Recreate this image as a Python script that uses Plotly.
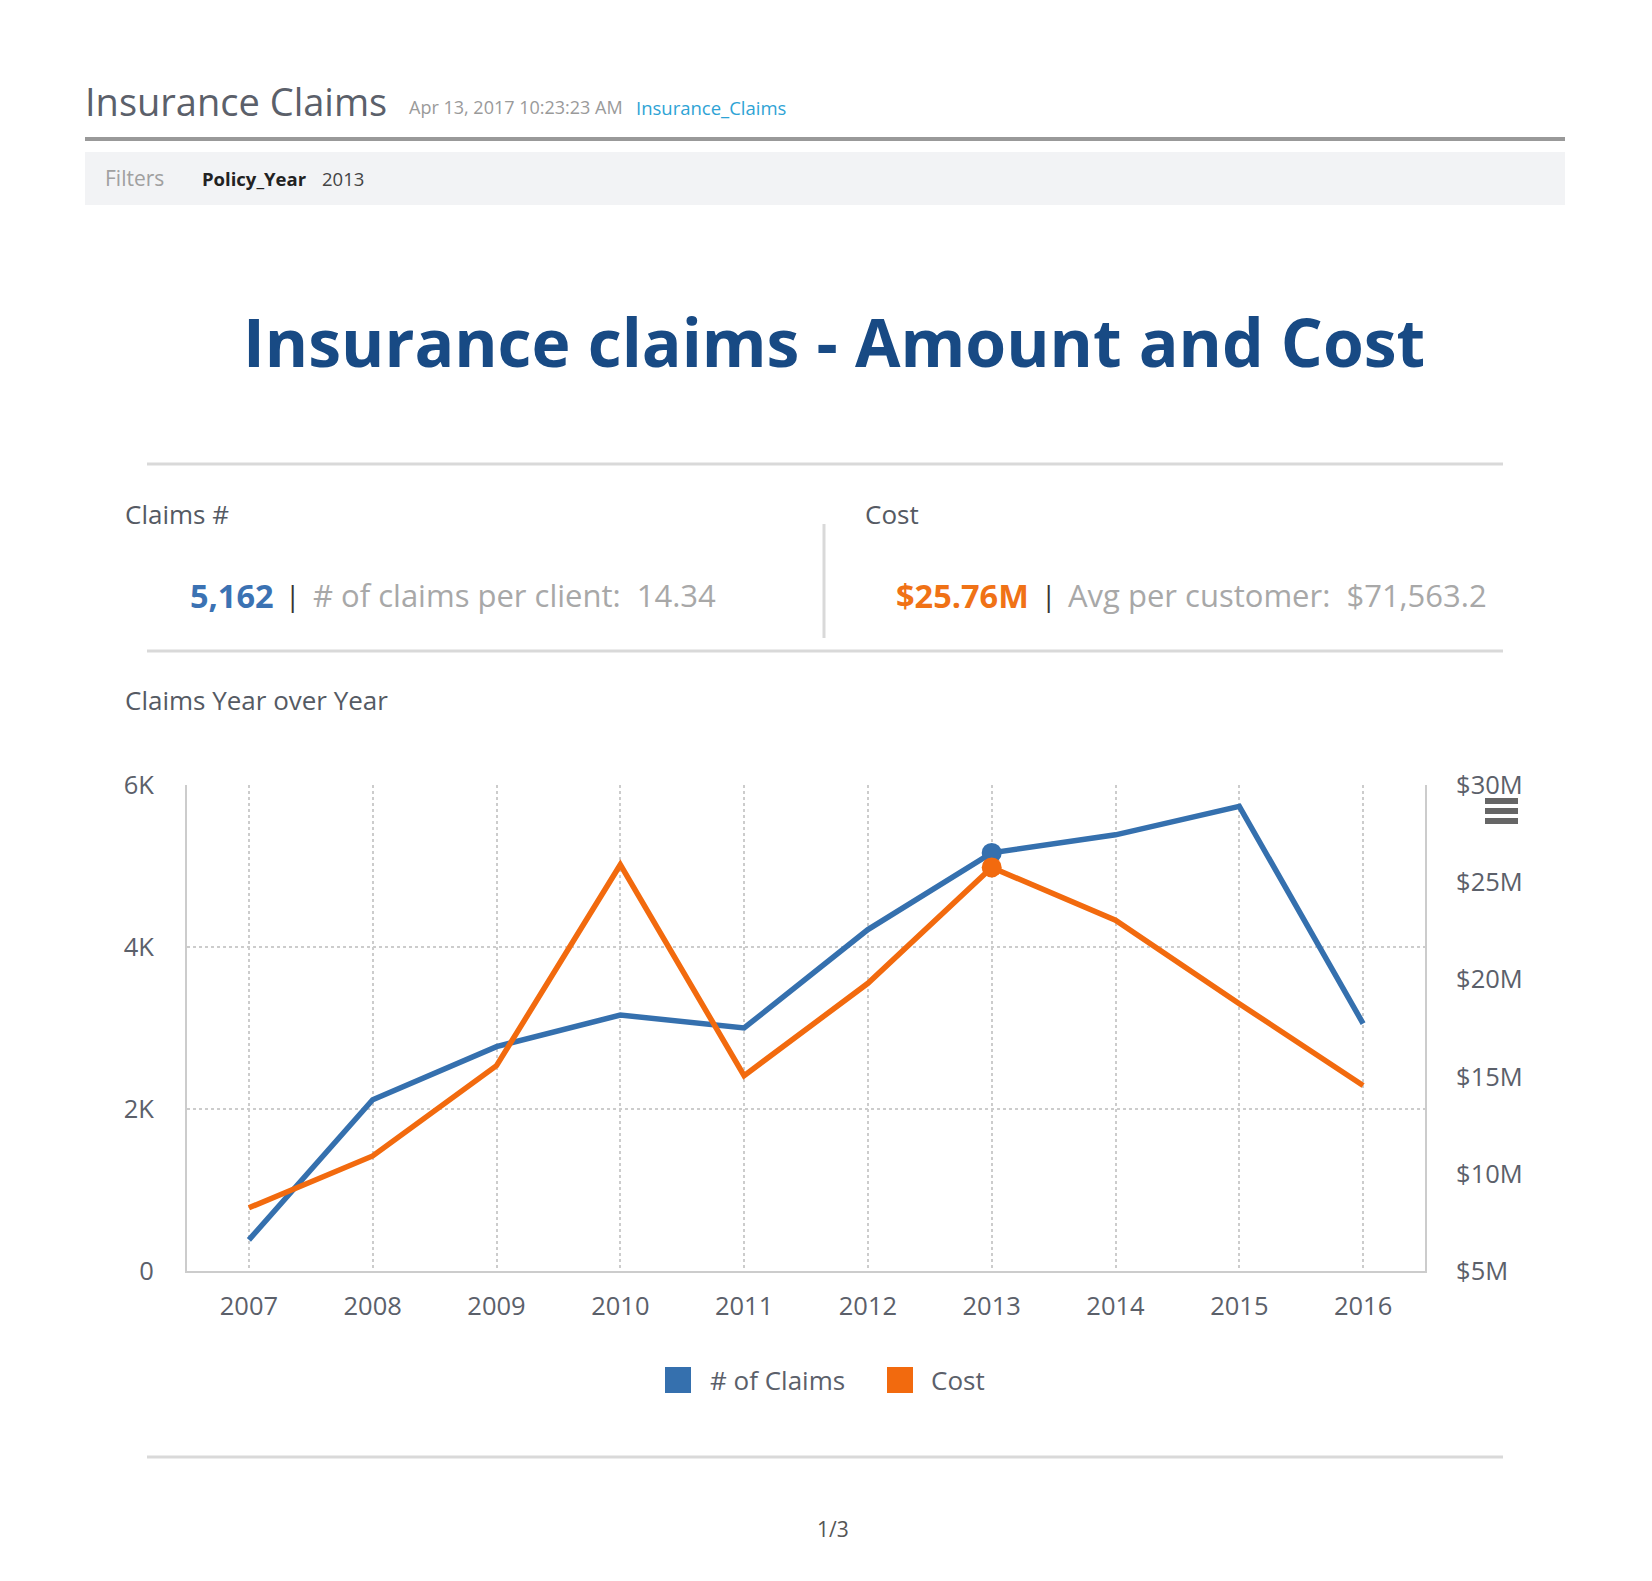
import plotly.graph_objects as go

# ---------------- data ----------------
years = ["2007", "2008", "2009", "2010", "2011", "2012", "2013", "2014", "2015", "2016"]
num_claims = [385, 2115, 2770, 3160, 3000, 4215, 5162, 5385, 5737, 3055]
cost = [8.25e6, 10.92e6, 15.56e6, 25.9e6, 15.05e6, 19.8e6, 25.76e6, 23.04e6, 18.75e6, 14.54e6]
highlight_year = "2013"

left_tickvals = [0, 2000, 4000, 6000]
left_ticktext = ["0", "2K", "4K", "6K"]
right_tickvals = [5e6, 10e6, 15e6, 20e6, 25e6, 30e6]
right_ticktext = ["$5M", "$10M", "$15M", "$20M", "$25M", "$30M"]

series_names = ["# of Claims", "Cost"]
BLUE = "#3570ae"
ORANGE = "#f26a0e"
FONT = "Open Sans"
AXIS_TXT = "#5b606a"

W, H = 1652, 1581
PL, PR, PT, PB = 179, 1417, 777, 1263


def fx(px):
    return (px - PL) / (PR - PL)


def fy(py):
    return (PB - py) / (PB - PT)


fig = go.Figure()
fig.add_trace(go.Scatter(x=years, y=num_claims, mode="lines", name=series_names[0],
                         line=dict(color=BLUE, width=5.5), showlegend=False, yaxis="y"))
fig.add_trace(go.Scatter(x=years, y=cost, mode="lines", name=series_names[1],
                         line=dict(color=ORANGE, width=5.5), showlegend=False, yaxis="y2"))
hi = years.index(highlight_year)
fig.add_trace(go.Scatter(x=[years[hi]], y=[num_claims[hi]], mode="markers",
                         marker=dict(color=BLUE, size=20), showlegend=False, yaxis="y"))
fig.add_trace(go.Scatter(x=[years[hi]], y=[cost[hi]], mode="markers",
                         marker=dict(color=ORANGE, size=20), showlegend=False, yaxis="y2"))

shapes = []
annotations = []


def hline(y, x0, x1, color, width):
    shapes.append(dict(type="line", xref="paper", yref="paper", x0=fx(x0), x1=fx(x1),
                       y0=fy(y), y1=fy(y), line=dict(color=color, width=width)))


def vline(x, y0, y1, color, width):
    shapes.append(dict(type="line", xref="paper", yref="paper", x0=fx(x), x1=fx(x),
                       y0=fy(y0), y1=fy(y1), line=dict(color=color, width=width)))


def rect(x0, y0, x1, y1, color):
    shapes.append(dict(type="rect", xref="paper", yref="paper", x0=fx(x0), x1=fx(x1),
                       y0=fy(y0), y1=fy(y1), fillcolor=color, line=dict(width=0), layer="below"))


def text(t, x, y, size, color, anchor="left", family=FONT):
    annotations.append(dict(text=t, xref="paper", yref="paper", x=fx(x), y=fy(y),
                            xanchor=anchor, yanchor="middle", showarrow=False,
                            font=dict(family=family, size=size, color=color)))


# header
text("Insurance Claims", 75, 93, 38, "#5b606a")
text("Apr 13, 2017 10:23:23 AM", 399, 99, 18, "#9a9a9a")
text("Insurance_Claims", 626, 99, 18.5, "#2ea3d5")
hline(131, 77, 1557, "#999999", 4)
rect(77, 144, 1557, 197, "#f2f3f5")
text("Filters", 95, 170, 21, "#a0a0a0")
text("<b>Policy_Year</b>", 192, 170, 18.5, "#222222")
text("2013", 312, 170, 18.5, "#444444")

# title
text("<b>Insurance claims - Amount and Cost</b>", 826, 333, 66, "#184a84", anchor="center")

# KPI block
hline(456, 139, 1495, "#d9d9d9", 3)
text("Claims #", 115, 506, 26, "#555a63")
text("Cost", 855, 506, 26, "#555a63")
vline(816, 516, 630, "#d9d9d9", 3)
text("<b>5,162</b>", 180, 587, 32.5, "#3b72b3")
text("|", 275, 587, 28, "#333333")
text("# of claims per client:  14.34", 303, 587, 31, "#a8a8a8")
text("<b>$25.76M</b>", 886, 587, 32.5, "#f07216")
text("|", 1031, 587, 28, "#333333")
text("Avg per customer:  $71,563.2", 1058, 587, 31, "#a8a8a8")
hline(643, 139, 1495, "#d9d9d9", 3)
text("Claims Year over Year", 115, 692, 26, "#555a63")

# legend (drawn)
legend_items = [(657, BLUE, series_names[0], 702), (879, ORANGE, series_names[1], 923)]
for x0, col, name, tx in legend_items:
    rect(x0, 1359, x0 + 26, 1385, col)
    text(name, tx - 2, 1372, 26, AXIS_TXT)

# hamburger icon
for yy in (793, 803, 813):
    hline(yy, 1477, 1510, "#666666", 6)

hline(1449, 139, 1495, "#d9d9d9", 3)
text("1/3", 825, 1521, 21, "#555555", anchor="center")

fig.update_layout(
    width=W, height=H, autosize=False,
    margin=dict(l=PL, r=W - PR, t=PT, b=H - PB, pad=0),
    paper_bgcolor="white", plot_bgcolor="white",
    shapes=shapes, annotations=annotations,
    xaxis=dict(type="category", range=[-0.5, len(years) - 0.5], showgrid=True,
               gridcolor="#cccccc", griddash="dot", gridwidth=1.5,
               showline=True, linecolor="#cccccc", linewidth=2, ticks="",
               tickfont=dict(family=FONT, size=25.5, color=AXIS_TXT), ticklabelstandoff=11,
               zeroline=False, fixedrange=True),
    yaxis=dict(range=[0, 6000], tickvals=left_tickvals, ticktext=left_ticktext,
               showgrid=True, gridcolor="#cccccc", griddash="dot", gridwidth=1.5,
               showline=True, linecolor="#cccccc", linewidth=2, ticks="",
               tickfont=dict(family=FONT, size=25.5, color=AXIS_TXT), ticklabelstandoff=26,
               zeroline=False),
    yaxis2=dict(range=[5e6, 30e6], tickvals=right_tickvals, ticktext=right_ticktext,
                overlaying="y", side="right", showgrid=False,
                showline=True, linecolor="#cccccc", linewidth=2, ticks="",
                tickfont=dict(family=FONT, size=25.5, color=AXIS_TXT), ticklabelstandoff=24,
                zeroline=False),
    hovermode=False,
)

fig.write_html("out.html", config={"displayModeBar": False})
